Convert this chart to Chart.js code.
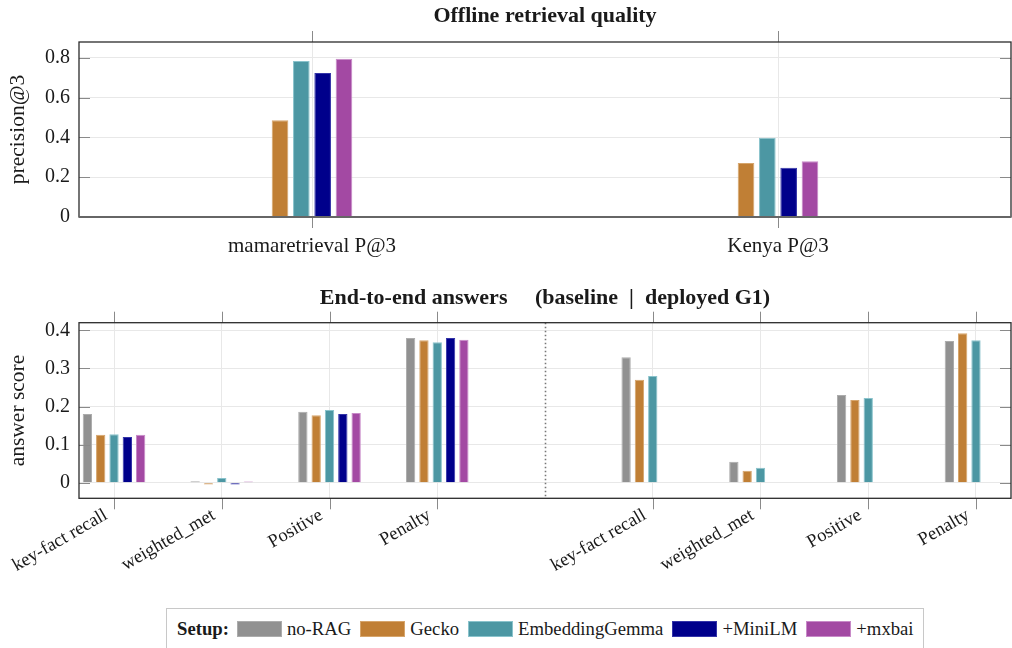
<!DOCTYPE html>
<html>
<head>
<meta charset="utf-8">
<script src="https://cdn.jsdelivr.net/npm/chart.js"></script>
<style>
  body { margin: 0; background: #fff; }
  #wrap { position: relative; width: 1012px; height: 648px; overflow: hidden; font-family: 'Liberation Serif', serif; }
  #top { position: absolute; left: 0; top: 0; }
  #bottom { position: absolute; left: 0; top: 270px; }
  #legend {
    position: absolute; left: 166px; top: 608px; width: 758px; height: 44px;
    border: 1px solid #c8c8c8; box-sizing: border-box;
    display: flex; align-items: center; font-size: 18.7px; color: #1a1a1a;
    padding-left: 10px; padding-bottom: 2px; white-space: nowrap;
  }
  #legend > * { flex-shrink: 0; }
  #legend b { margin-right: 8px; }
  #legend .sw { width: 45px; height: 16px; box-sizing: border-box; border: 1px solid; margin-right: 5px; }
  #legend .lb { margin-right: 9px; }
</style>
</head>
<body>
<div id="wrap">
  <canvas id="top" width="1012" height="262"></canvas>
  <canvas id="bottom" width="1012" height="330"></canvas>
  <div id="legend"></div>
</div>
<script>
// setups shown in the legend
const setups = ['no-RAG', 'Gecko', 'EmbeddingGemma', '+MiniLM', '+mxbai'];
const setupColors = ['#919191', '#C07F35', '#4C97A3', '#00008B', '#A349A3'];
const setupBorders = ['#acacac', '#d6a56c', '#8ac3cc', '#3434a8', '#c88ac8'];

// offline retrieval (no no-RAG bar here)
const retrievalCats = ['mamaretrieval P@3', 'Kenya P@3'];
const retrievalGecko = [0.487, 0.271];
const retrievalGemma = [0.785, 0.399];
const retrievalMiniLM = [0.724, 0.248];
const retrievalMxbai = [0.796, 0.28];
const precisionTicks = [0, 0.2, 0.4, 0.6, 0.8];

// end-to-end answers
const answerMetrics = ['key-fact recall', 'weighted_met', 'Positive', 'Penalty'];
const baselineNoRag = [0.18, 0.004, 0.186, 0.38];
const baselineGecko = [0.126, -0.005, 0.177, 0.374];
const baselineGemma = [0.127, 0.012, 0.191, 0.369];
const baselineMiniLM = [0.12, -0.005, 0.18, 0.38];
const baselineMxbai = [0.126, 0.003, 0.183, 0.375];
const deployedNoRag = [0.329, 0.055, 0.23, 0.372];
const deployedGecko = [0.27, 0.031, 0.217, 0.392];
const deployedGemma = [0.28, 0.039, 0.222, 0.374];
const scoreTicks = [0, 0.1, 0.2, 0.3, 0.4];

Chart.defaults.font.family = "'Liberation Serif', serif";
Chart.defaults.color = '#1a1a1a';
Chart.defaults.animation = false;

// box around plot + pgfplots style tick marks
const framePlugin = {
  id: 'frame',
  afterDatasetsDraw(chart, args, opts) {
    const { ctx, chartArea: a, scales } = chart;
    const line = (x1, y1, x2, y2) => { ctx.beginPath(); ctx.moveTo(x1, y1); ctx.lineTo(x2, y2); ctx.stroke(); };
    ctx.save();
    ctx.strokeStyle = '#8a8a8a';
    ctx.lineWidth = 1;
    scales.x.ticks.forEach((t, i) => {
      const px = Math.round(scales.x.getPixelForTick(i)) + 0.5;
      line(px, a.top - 11, px, a.top);
      line(px, a.bottom, px, a.bottom + 11);
    });
    scales.y.ticks.forEach((t, i) => {
      const py = Math.round(scales.y.getPixelForTick(i)) + 0.5;
      line(a.left, py, a.left + 11, py);
      line(a.right - 11, py, a.right, py);
    });
    if (opts.split !== undefined) {
      const sx = Math.round(scales.x.getPixelForValue(opts.split)) + 0.5;
      ctx.strokeStyle = '#777';
      ctx.lineWidth = 1.6;
      ctx.setLineDash([1.6, 2.4]);
      line(sx, a.top, sx, a.bottom);
      ctx.setLineDash([]);
    }
    ctx.strokeStyle = '#2b2b2b';
    ctx.lineWidth = 1.3;
    ctx.strokeRect(a.left, a.top, a.right - a.left, a.bottom - a.top);
    if (opts.zeroBase) {
      ctx.strokeStyle = '#666';
      ctx.lineWidth = 2;
      line(a.left, a.bottom, a.right, a.bottom);
    }
    ctx.restore();
  }
};

function barSet(i, data) {
  return {
    label: setups[i], data,
    backgroundColor: setupColors[i], borderColor: setupBorders[i], borderWidth: 1
  };
}

// top chart
new Chart(document.getElementById('top'), {
  type: 'bar',
  data: {
    labels: retrievalCats,
    datasets: [
      barSet(1, retrievalGecko), barSet(2, retrievalGemma),
      barSet(3, retrievalMiniLM), barSet(4, retrievalMxbai)
    ].map(d => Object.assign(d, { categoryPercentage: 0.183, barPercentage: 0.78 }))
  },
  options: {
    responsive: false,
    layout: { padding: { left: 0, right: 1, top: 0, bottom: 0 } },
    plugins: {
      legend: { display: false }, tooltip: { enabled: false },
      title: { display: true, fullSize: false, text: 'Offline retrieval quality', font: { size: 22, weight: 'bold' }, padding: { top: 2.8, bottom: 12.8 } },
      frame: { zeroBase: true }
    },
    scales: {
      x: {
        grid: { color: '#e8e8e8', offset: false, drawTicks: false },
        border: { display: false },
        ticks: { font: { size: 21 }, padding: 16.4 },
        afterFit: s => { s.height = 45; }
      },
      y: {
        min: 0, max: 0.88,
        afterBuildTicks: s => { s.ticks = precisionTicks.map(v => ({ value: v })); },
        grid: { color: '#e8e8e8', drawTicks: false },
        border: { display: false },
        ticks: { font: { size: 20 }, padding: 9, callback: v => String(v) },
        title: { display: true, text: 'precision@3', font: { size: 21.5 }, padding: { top: 5.1, bottom: 0 } },
        afterFit: s => { s.width = 79; }
      }
    }
  },
  plugins: [framePlugin]
});

// bottom chart: baseline group at 1..n, deployed group after a gap
const n = answerMetrics.length;
const basePos = answerMetrics.map((m, i) => i + 1);
const depPos = answerMetrics.map((m, i) => i + n + 2);
const tickPos = basePos.concat(depPos);
const pts = (pos, vals) => vals.map((v, i) => ({ x: pos[i], y: v }));

new Chart(document.getElementById('bottom'), {
  type: 'bar',
  data: {
    datasets: [
      barSet(0, pts(basePos, baselineNoRag).concat(pts(depPos, deployedNoRag))),
      barSet(1, pts(basePos, baselineGecko).concat(pts(depPos, deployedGecko))),
      barSet(2, pts(basePos, baselineGemma).concat(pts(depPos, deployedGemma))),
      barSet(3, pts(basePos, baselineMiniLM)),
      barSet(4, pts(basePos, baselineMxbai))
    ].map(d => Object.assign(d, { categoryPercentage: 0.618, barPercentage: 0.7 }))
  },
  options: {
    responsive: false,
    layout: { padding: { left: 0, right: 1, top: 0, bottom: 0 } },
    plugins: {
      legend: { display: false }, tooltip: { enabled: false },
      title: { display: true, fullSize: false, text: 'End-to-end answers     (baseline  |  deployed G1)', font: { size: 22, weight: 'bold' }, padding: { top: 14.8, bottom: 11.5 } },
      frame: { split: n + 1 }
    },
    scales: {
      x: {
        type: 'linear', offset: false,
        min: 1 - 0.325, max: 2 * n + 1 + 0.325,
        afterBuildTicks: s => { s.ticks = tickPos.map(v => ({ value: v })); },
        grid: { color: '#e8e8e8', offset: false, drawTicks: false },
        border: { display: false },
        ticks: {
          font: { size: 18.5 }, padding: 6, autoSkip: false,
          minRotation: 30, maxRotation: 30, labelOffset: -8,
          callback: v => answerMetrics[tickPos.indexOf(v) % n]
        },
        afterFit: s => { s.height = 101.7; }
      },
      y: {
        min: -0.041, max: 0.42,
        afterBuildTicks: s => { s.ticks = scoreTicks.map(v => ({ value: v })); },
        grid: { color: '#e8e8e8', drawTicks: false },
        border: { display: false },
        ticks: { font: { size: 20 }, padding: 9, callback: v => String(v) },
        title: { display: true, text: 'answer score', font: { size: 21.5 }, padding: { top: 5.1, bottom: 0 } },
        afterFit: s => { s.width = 79; }
      }
    }
  },
  plugins: [framePlugin]
});

// legend
const leg = document.getElementById('legend');
leg.innerHTML = '<b>Setup:</b>' + setups.map((s, i) =>
  '<span class="sw" style="background:' + setupColors[i] + ';border-color:' + setupBorders[i] + '"></span><span class="lb">' + s + '</span>'
).join('');
</script>
</body>
</html>
